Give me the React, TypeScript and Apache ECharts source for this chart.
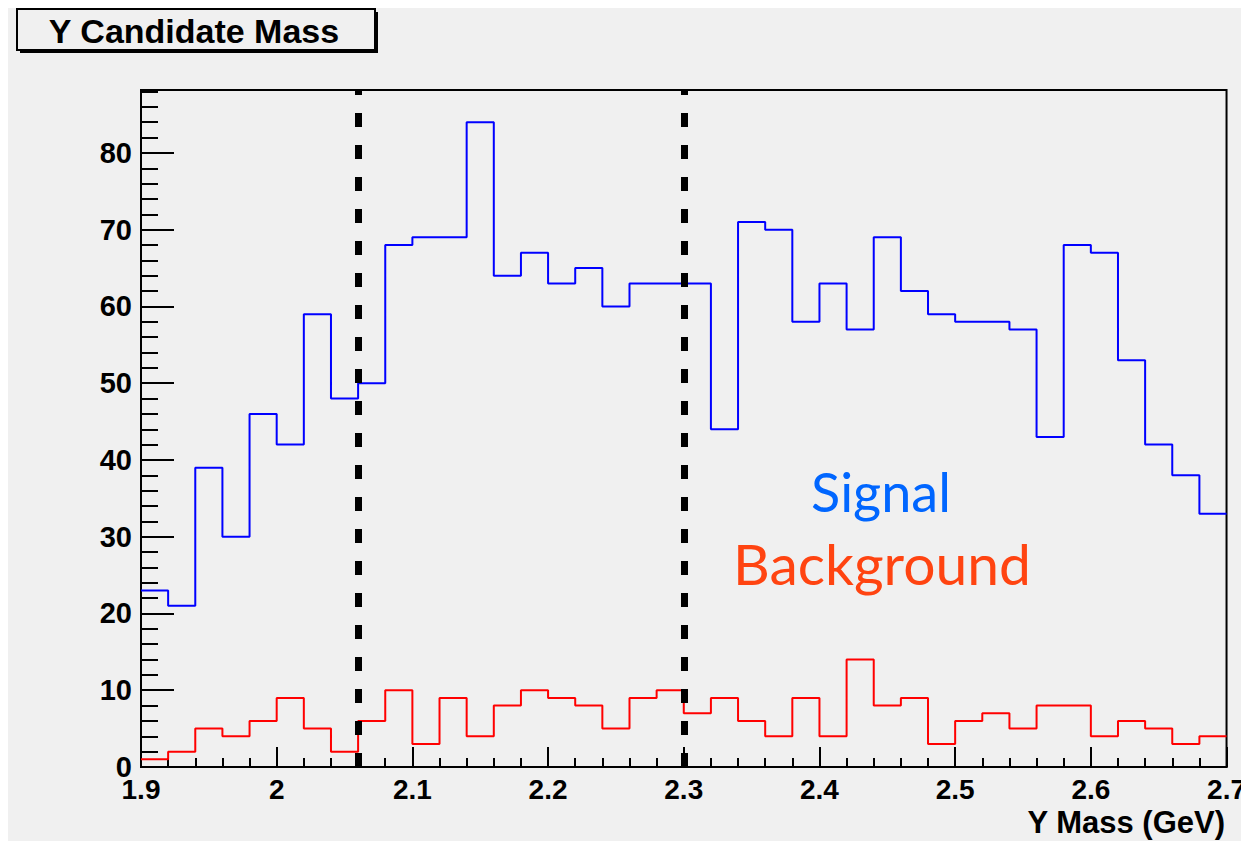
import React, { useEffect, useRef } from "react";
import * as echarts from "echarts";

const binEdges = [
  1.9, 1.92, 1.94, 1.96, 1.98, 2.0, 2.02, 2.04, 2.06, 2.08,
  2.1, 2.12, 2.14, 2.16, 2.18, 2.2, 2.22, 2.24, 2.26, 2.28,
  2.3, 2.32, 2.34, 2.36, 2.38, 2.4, 2.42, 2.44, 2.46, 2.48,
  2.5, 2.52, 2.54, 2.56, 2.58, 2.6, 2.62, 2.64, 2.66, 2.68, 2.7,
];

const signalCounts = [
  23, 21, 39, 30, 46, 42, 59, 48, 50, 68,
  69, 69, 84, 64, 67, 63, 65, 60, 63, 63,
  63, 44, 71, 70, 58, 63, 57, 69, 62, 59,
  58, 58, 57, 43, 68, 67, 53, 42, 38, 33,
];

const backgroundCounts = [
  1, 2, 5, 4, 6, 9, 5, 2, 6, 10,
  3, 9, 4, 8, 10, 9, 8, 5, 9, 10,
  7, 9, 6, 4, 9, 4, 14, 8, 9, 3,
  6, 7, 5, 8, 8, 4, 6, 5, 3, 4,
];

const cutValues = [2.06, 2.3];

const titleText = "Y Candidate Mass";
const xTitle = "Y Mass (GeV)";
const signalLabel = "Signal";
const backgroundLabel = "Background";

const ROOT_FONT = "'Liberation Sans', Arial, Helvetica, sans-serif";

function stepPoints(counts: number[]) {
  const pts: [number, number][] = counts.map((v, i) => [binEdges[i], v]);
  pts.push([binEdges[binEdges.length - 1], counts[counts.length - 1]]);
  return pts;
}

export default function App() {
  const ref = useRef<HTMLDivElement>(null);

  useEffect(() => {
    if (!ref.current) return;
    const chart = echarts.init(ref.current, null, { renderer: "svg" });
    chart.setOption({
      animation: false,
      backgroundColor: "#f0f0f0",
      grid: {
        left: 133,
        top: 82,
        width: 1088,
        height: 677,
        show: true,
        borderColor: "#000",
        borderWidth: 2,
        backgroundColor: "transparent",
      },
      xAxis: {
        type: "value",
        min: 1.9,
        max: 2.7,
        interval: 0.1,
        axisLine: { show: true, onZero: false, lineStyle: { color: "#000", width: 2 } },
        axisTick: { show: true, inside: true, length: 20, lineStyle: { color: "#000", width: 2 } },
        minorTick: { show: true, splitNumber: 5, length: 9, lineStyle: { color: "#000", width: 2 } },
        splitLine: { show: false },
        minorSplitLine: { show: false },
        axisLabel: {
          show: true,
          margin: 8,
          color: "#000",
          fontFamily: ROOT_FONT,
          fontWeight: "bold",
          fontSize: 28,
          showMinLabel: true,
          showMaxLabel: true,
          formatter: (v: number) => String(Number(v.toFixed(2))),
        },
      },
      yAxis: {
        type: "value",
        min: 0,
        max: 88.2,
        interval: 10,
        axisLine: { show: true, lineStyle: { color: "#000", width: 2 } },
        axisTick: { show: true, inside: true, length: 33, lineStyle: { color: "#000", width: 2 } },
        minorTick: { show: true, splitNumber: 5, length: 17, lineStyle: { color: "#000", width: 2 } },
        splitLine: { show: false },
        minorSplitLine: { show: false },
        axisLabel: {
          show: true,
          margin: 9,
          color: "#000",
          fontFamily: ROOT_FONT,
          fontWeight: "bold",
          fontSize: 29,
          showMaxLabel: false,
        },
      },
      series: [
        {
          name: "Signal",
          type: "line",
          step: "end",
          showSymbol: false,
          symbol: "none",
          data: stepPoints(signalCounts),
          lineStyle: { color: "#0000ff", width: 2 },
          z: 3,
          markLine: {
            silent: true,
            symbol: ["none", "none"],
            label: { show: false },
            lineStyle: { color: "#000", width: 7, type: [14, 18] },
            data: cutValues.map((v) => ({ xAxis: v })),
          },
        },
        {
          name: "Background",
          type: "line",
          step: "end",
          showSymbol: false,
          symbol: "none",
          data: stepPoints(backgroundCounts),
          lineStyle: { color: "#ff0000", width: 2 },
          z: 3,
        },
      ],
      graphic: [
        {
          type: "rect",
          shape: { x: 12, y: 4, width: 358, height: 41 },
          style: { fill: "#000" },
          z: 10,
        },
        {
          type: "rect",
          shape: { x: 9, y: 1, width: 358, height: 41 },
          style: { fill: "#f0f0f0", stroke: "#000", lineWidth: 2 },
          z: 11,
        },
        {
          type: "text",
          x: 186,
          y: 23,
          z: 12,
          style: {
            text: titleText,
            fill: "#000",
            font: `bold 34px ${ROOT_FONT}`,
            textAlign: "center",
            textVerticalAlign: "middle",
          },
        },
        {
          type: "text",
          x: 1217,
          y: 814,
          z: 12,
          style: {
            text: xTitle,
            fill: "#000",
            font: `bold 31px ${ROOT_FONT}`,
            textAlign: "right",
            textVerticalAlign: "middle",
          },
        },
        {
          type: "text",
          x: 873,
          y: 483,
          z: 12,
          style: {
            text: signalLabel,
            fill: "#0066ff",
            font: `54px Lato, 'Open Sans', sans-serif`,
            textAlign: "center",
            textVerticalAlign: "middle",
          },
        },
        {
          type: "text",
          x: 874,
          y: 555,
          z: 12,
          style: {
            text: backgroundLabel,
            fill: "#ff4411",
            font: `57px Lato, 'Open Sans', sans-serif`,
            textAlign: "center",
            textVerticalAlign: "middle",
          },
        },
      ],
    });
    return () => chart.dispose();
  }, []);

  return <div ref={ref} style={{ width: 1241, height: 833 }} />;
}
